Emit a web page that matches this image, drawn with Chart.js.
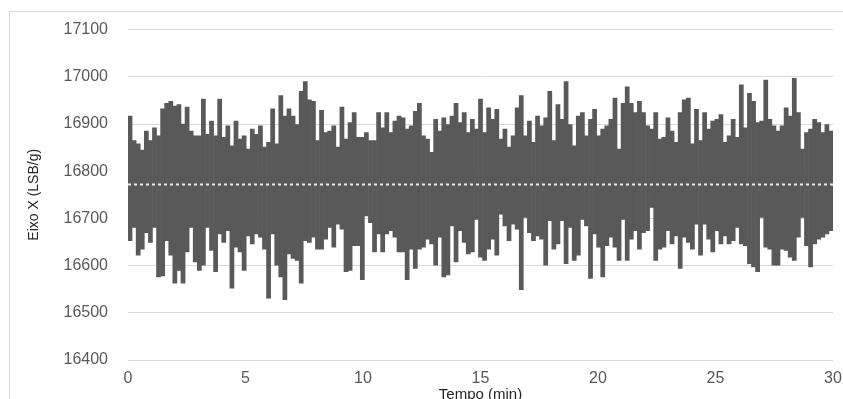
<!DOCTYPE html>
<html>
<head>
<meta charset="utf-8">
<script src="https://cdn.jsdelivr.net/npm/chart.js@4/dist/chart.umd.min.js"></script>
<style>
  html, body { margin: 0; padding: 0; background: #fff; overflow: hidden; }
  #wrap { position: relative; width: 843px; height: 399px; overflow: hidden; }
  #frame { position: absolute; left: 9px; top: 11px; width: 860px; height: 420px; border: 1px solid #d9d9d9; box-sizing: border-box; }
  canvas { position: absolute; left: 0; top: 0; }
</style>
</head>
<body>
<div id="wrap">
  <div id="frame"></div>
  <canvas id="chart" width="843" height="404"></canvas>
</div>
<script>
// upper peaks of the signal (LSB/g), read left to right
const upper = [
  16917,16865,16858,16845,16885,16865,16892,16875,16932,16944,16948,16938,16941,16900,16936,16885,
  16875,16875,16953,16878,16906,16875,16953,16872,16896,16854,16906,16868,16875,16847,16889,16878,
  16896,16851,16861,16932,16858,16960,16917,16932,16917,16899,16969,16990,16951,16948,16865,16929,
  16882,16885,16896,16851,16936,16868,16903,16924,16872,16872,16882,16865,16865,16924,16892,16924,
  16882,16906,16917,
  16913,16889,16896,16927,16944,16875,16868,16840,16910,16885,16913,16899,16917,16944,16903,16924,
  16882,16910,16889,16953,16882,16934,16910,16931,16868,16889,16851,16875,16934,16960,16875,16906,
  16861,16917,
  16896,16913,16969,16865,16941,16910,16990,16899,16854,16917,16924,16875,16910,16931,16875,16889,
  16896,16910,16955,16847,16944,16979,16944,16924,16948,16924,16896,16889,16924,16868,16872,16913,
  16885,16861,16924,16951,
  16955,16858,16931,16865,16924,16889,16906,16910,16920,16861,16875,16910,16872,16983,16892,16965,
  16948,16903,16906,16993,16910,16896,16885,16896,16934,16917,16997,16924,16847,16882,16889,16910,
  16903,16882,16899,16885
];
// lower dips of the signal (LSB/g), same positions
const lower = [
  16653,16681,16622,16635,16670,16649,16681,16576,16578,16653,16622,16563,16590,16563,16629,16681,
  16608,16590,16601,16681,16632,16587,16667,16649,16674,16552,16639,16629,16590,16663,16646,16667,
  16660,16635,16531,16667,16601,16576,16528,16625,16615,16611,16563,16653,16649,16660,16635,16635,
  16656,16681,16639,16688,16677,16587,16590,16642,16642,16570,16705,16691,16629,16667,16629,16667,
  16674,16660,16629,
  16629,16570,16635,16594,16635,16639,16656,16646,16601,16660,16576,16580,16684,16608,16674,16649,
  16625,16629,16698,16618,16611,16635,16656,16622,16709,16684,16653,16688,16677,16549,16702,16670,
  16653,16663,
  16656,16601,16695,16635,16646,16695,16604,16681,16611,16622,16698,16684,16573,16667,16639,16576,
  16642,16660,16639,16611,16698,16611,16656,16674,16635,16670,16674,16723,16611,16635,16639,16674,
  16646,16663,16594,16660,
  16649,16635,16688,16622,16688,16656,16629,16674,16646,16663,16646,16653,16681,16646,16642,16604,
  16597,16587,16702,16639,16635,16601,16601,16635,16632,16618,16611,16660,16702,16642,16597,16646,
  16656,16660,16667,16674
];
const meanValue = 16772;
const tempoMax = 30;
const yMin = 16400, yMax = 17100;

const n = Math.min(upper.length, lower.length);
const signal = upper.slice(0, n).map((hi, i) => ({
  x: (i + 0.5) * tempoMax / n,
  y: [lower[i], hi]
}));

const tickFont = { family: 'Arial, "Liberation Sans"', size: 16 };

new Chart(document.getElementById('chart'), {
  type: 'bar',
  data: {
    datasets: [
      {
        type: 'line',
        label: 'media',
        data: [{ x: 0, y: meanValue }, { x: tempoMax, y: meanValue }],
        borderColor: '#ececec',
        borderWidth: 2,
        borderDash: [3, 3],
        pointRadius: 0,
        order: 0
      },
      {
        label: 'Eixo X',
        data: signal,
        backgroundColor: '#595959',
        borderWidth: 0,
        barPercentage: 1,
        categoryPercentage: 1,
        grouped: false,
        order: 1
      }
    ]
  },
  options: {
    responsive: false,
    animation: false,
    layout: { padding: { left: 0, top: 24, right: 10, bottom: 0 } },
    plugins: {
      legend: { display: false },
      tooltip: { enabled: false }
    },
    scales: {
      x: {
        type: 'linear',
        min: 0,
        max: tempoMax,
        offset: false,
        grid: { display: false, offset: false },
        border: { display: false },
        ticks: { stepSize: 5, color: '#595959', font: tickFont, padding: 1, maxRotation: 0 },
        title: {
          display: true,
          text: 'Tempo (min)',
          color: '#262626',
          font: { family: 'Arial, "Liberation Sans"', size: 15 },
          padding: { top: 0, bottom: 0 }
        },
        afterFit: (scale) => { scale.height = 44; }
      },
      y: {
        min: yMin,
        max: yMax,
        beginAtZero: false,
        grid: { color: '#d9d9d9', drawTicks: false },
        border: { display: false },
        ticks: {
          stepSize: 100, color: '#595959', font: tickFont, padding: 20,
          callback: (v) => String(v)
        },
        title: {
          display: true,
          text: 'Eixo X (LSB/g)',
          color: '#262626',
          font: { family: 'Arial, "Liberation Sans"', size: 14 },
          padding: { top: 26, bottom: 0 }
        },
        afterFit: (scale) => { scale.width = 128; }
      }
    }
  }
});
</script>
</body>
</html>
